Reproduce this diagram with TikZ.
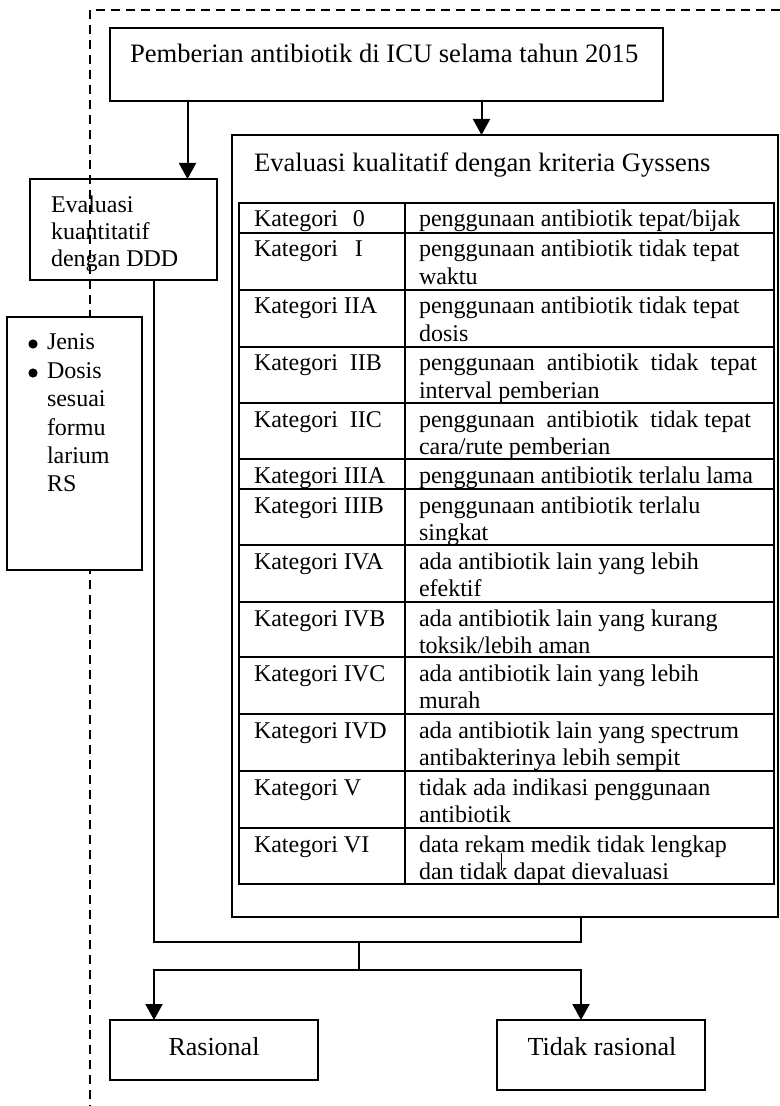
\documentclass[tikz,border=0pt]{standalone}
\usepackage{fontspec}
\setmainfont{Liberation Serif}
\usetikzlibrary{arrows.meta}
\begin{document}
\begin{tikzpicture}[x=0.5pt,y=-0.5pt,
  box/.style={draw, line width=0.8pt, inner sep=0pt, outer sep=0pt, anchor=center},
  txt/.style={anchor=base west, inner sep=0pt, outer sep=0pt, font=\fontsize{12}{13.8}\selectfont},
  bigtxt/.style={txt, font=\fontsize{13.3}{15}\selectfont},
  ctxt/.style={anchor=base, inner sep=0pt, outer sep=0pt, font=\fontsize{13}{15}\selectfont},
  bul/.style={circle, fill=black, inner sep=0pt, outer sep=0pt, minimum size=4.6pt},
  arr/.style={-{Triangle[length=8pt,width=8.5pt]}, line width=1pt},
  conn/.style={line width=0.6pt},
  grid/.style={line width=1pt},
  border/.style={dash pattern=on 4.5pt off 3pt, line width=1.1pt}]
\useasboundingbox (0,0) rectangle (780,1106);

% dashed frame
\draw[border] (780,10) -- (90,10) -- (90,1106);

% boxes
\node[box, minimum width=276.5pt, minimum height=36.5pt] (top) at (386.5,64.5) {};
\node[box, minimum width=273pt, minimum height=391pt] (eval) at (505,526) {};
\node[box, minimum width=93.5pt, minimum height=50.5pt] (ddd) at (123.5,229.5) {};
\node[box, fill=white, minimum width=67.5pt, minimum height=126.5pt] (jenis) at (74.5,443.5) {};
\node[box, minimum width=104pt, minimum height=30pt] (ras) at (214,1050) {};
\node[box, minimum width=104pt, minimum height=35pt] (tdk) at (601,1055) {};

% texts in boxes
\node[bigtxt] (ttop) at (130,63) {Pemberian antibiotik di ICU selama tahun 2015};
\node[bigtxt] (teval) at (254,172) {Evaluasi kualitatif dengan kriteria Gyssens};
\node[txt] (tddd1) at (51,213) {Evaluasi};
\node[txt] (tddd2) at (51,240) {kuantitatif};
\node[txt] (tddd3) at (51,267) {dengan DDD};
\node[bul] (b1) at (33,344) {};
\node[bul] (b2) at (33,373) {};
\node[txt] (tj1) at (47,350) {Jenis};
\node[txt] (tj2) at (47,379) {Dosis};
\node[txt] (tj3) at (47,407) {sesuai};
\node[txt] (tj4) at (47,435) {formu};
\node[txt] (tj5) at (47,463) {larium};
\node[txt] (tj6) at (47,491) {RS};
\node[ctxt] (tras) at (214,1055) {Rasional};
\node[ctxt] (ttdk) at (602,1055) {Tidak rasional};

% table
\draw[grid] (239,203) rectangle (774,884);
\draw[grid] (405,203) -- (405,884);
\foreach \yy in {233,290,347,403,459,489,545,602,657,714,771,828}
  \draw[grid] (239,\yy) -- (774,\yy);

\node[txt] (k0) at (254,227) {Kategori\hspace{7.5pt}0};
\node[txt] (d0) at (419,227) {penggunaan antibiotik tepat/bijak};

\node[txt] (k1) at (254,257) {Kategori\hspace{8.5pt}I};
\node[txt] (d1a) at (419,257) {penggunaan antibiotik tidak tepat};
\node[txt] (d1b) at (419,284.6) {waktu};

\node[txt] (k2) at (254,314) {Kategori IIA};
\node[txt] (d2a) at (419,314) {penggunaan antibiotik tidak tepat};
\node[txt] (d2b) at (419,341.6) {dosis};

\node[txt] (k3) at (254,371) {Kategori\ \ IIB};
\node[txt] (d3a) at (419,371) {\makebox[169pt][s]{penggunaan antibiotik tidak tepat}};
\node[txt] (d3b) at (419,398.6) {interval pemberian};

\node[txt] (k4) at (254,427) {Kategori\ \ IIC};
\node[txt] (d4a) at (419,427) {\makebox[166pt][s]{penggunaan\hspace{0pt plus 1fil} antibiotik\hspace{0pt plus 1fil} tidak tepat}};
\node[txt] (d4b) at (419,454.6) {cara/rute pemberian};

\node[txt] (k5) at (254,483) {Kategori IIIA};
\node[txt] (d5) at (419,483) {penggunaan antibiotik terlalu lama};

\node[txt] (k6) at (254,513) {Kategori IIIB};
\node[txt] (d6a) at (419,513) {penggunaan antibiotik terlalu};
\node[txt] (d6b) at (419,540.6) {singkat};

\node[txt] (k7) at (254,569) {Kategori IVA};
\node[txt] (d7a) at (419,569) {ada antibiotik lain yang lebih};
\node[txt] (d7b) at (419,596.6) {efektif};

\node[txt] (k8) at (254,626) {Kategori IVB};
\node[txt] (d8a) at (419,626) {ada antibiotik lain yang kurang};
\node[txt] (d8b) at (419,653.6) {toksik/lebih aman};

\node[txt] (k9) at (254,681) {Kategori IVC};
\node[txt] (d9a) at (419,681) {ada antibiotik lain yang lebih};
\node[txt] (d9b) at (419,708.6) {murah};

\node[txt] (k10) at (254,738) {Kategori IVD};
\node[txt] (d10a) at (419,738) {ada antibiotik lain yang spectrum};
\node[txt] (d10b) at (419,765.6) {antibakterinya lebih sempit};

\node[txt] (k11) at (254,795) {Kategori V};
\node[txt] (d11a) at (419,795) {tidak ada indikasi penggunaan};
\node[txt] (d11b) at (419,822.6) {antibiotik};

\node[txt] (k12) at (254,852) {Kategori VI};
\node[txt] (d12a) at (419,852) {data rekam medik tidak lengkap};
\node[txt] (d12b) at (419,879.6) {dan tidak dapat dievaluasi};

% stray mark
\draw[line width=0.5pt] (501,853) -- (501,870);

% connectors
\coordinate (c1) at (187.5,0);
\coordinate (c2) at (481.5,0);
\coordinate (c3) at (154,942);
\coordinate (c4) at (581,942);
\coordinate (j1) at (359,942);
\coordinate (j2) at (359,970);
\draw[arr] (top.south -| c1) -- (ddd.north -| c1);
\draw[arr] (top.south -| c2) -- (eval.north -| c2);
\draw[conn] (ddd.south -| c3) -- (c3) -- (c4) -- (eval.south -| c4);
\draw[conn] (j1) -- (j2);
\draw[arr] (j2) -| (ras.north -| c3);
\draw[arr] (j2) -| (tdk.north -| c4);
\end{tikzpicture}
\end{document}
